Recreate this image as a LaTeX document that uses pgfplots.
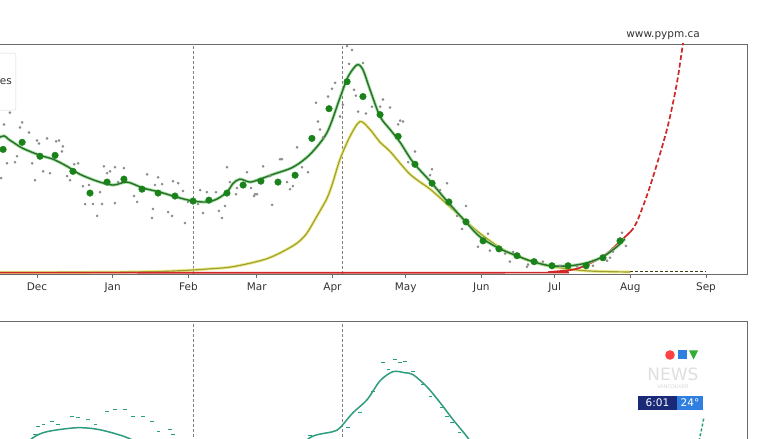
\documentclass[border=0pt]{standalone}
\usepackage{pgfplots}
\pgfplotsset{compat=1.18}
\usepackage{pgfplotstable}
\usepackage{fontspec}
\setmainfont{DejaVu Sans}

\definecolor{fitgreen}{HTML}{2B6E2B}
\definecolor{halogreen}{HTML}{8FDC8F}
\definecolor{dotgreen}{HTML}{1A821A}
\definecolor{dotgray}{HTML}{8A8A8A}
\definecolor{olivec}{HTML}{A09F38}
\definecolor{oliveglow}{HTML}{EDED8A}
\definecolor{redc}{HTML}{D02828}
\definecolor{tealc}{HTML}{2E9C7E}
\definecolor{framec}{HTML}{6A6A6A}
\definecolor{ctvnavy}{HTML}{1B2A78}
\definecolor{ctvblue}{HTML}{2F7FE0}

% x: days from 1 Dec, y: arbitrary units (frame = 0..100)
\pgfplotstableread{
x y
-17 58.5
-13.5 59.8
-11.9 58.5
-9.8 57.0
-5.7 54.3
1.2 51.3
6.6 49.6
12.3 46.5
17.6 43.0
24.6 40.0
31.1 38.3
36.9 39.6
43.4 37.0
50.4 35.2
57.3 33.0
63.9 31.3
69.6 30.9
73.7 32.2
77.8 35.2
80.3 39.0
83.1 40.9
87.2 39.6
91.3 40.9
96.7 43.0
104.8 46.1
111.8 51.7
118.8 61.3
124.1 76.5
127.4 85.7
131.1 90.9
133.5 88.7
136.4 80.0
140.5 68.3
144.6 62.6
148.7 57.0
154.0 48.3
161.0 40.0
167.9 31.3
174.5 23.5
181.4 15.7
189.6 10.4
196.6 7.4
201.9 5.2
210.1 3.0
218.3 3.0
225.3 4.3
231.8 7.0
237.5 11.3
240.8 14.8
}\fitline

\pgfplotstableread{
x y
-13.9 53.9
-6.1 57.0
1.2 50.9
7.4 51.3
14.7 44.3
21.7 34.8
28.7 39.6
35.6 40.9
43.0 36.5
49.6 34.8
56.5 33.5
63.9 31.3
70.4 31.7
77.8 34.8
84.4 38.3
91.7 40.0
98.7 39.6
105.7 42.6
112.6 58.7
119.6 71.7
127.0 83.5
133.5 77.0
140.5 69.1
147.9 59.6
154.8 47.4
161.8 39.1
168.7 30.9
175.7 22.2
182.7 13.9
189.2 10.4
196.6 7.4
203.6 4.8
210.9 3.0
217.5 3.0
224.9 3.0
231.8 6.5
238.8 13.9
}\weekly

\pgfplotstableread{
x y
-11.1 70.0
-13.5 64.8
-6.1 65.7
-7.0 63.5
-3.3 61.3
0.0 57.8
0.8 56.5
4.1 58.7
7.8 57.4
9.0 57.8
10.6 55.2
10.2 53.0
-8.2 50.9
-9.0 48.3
-12.3 47.8
-2.0 47.8
2.5 44.3
5.3 43.5
-0.8 40.4
-14.7 41.3
12.3 42.2
16.8 47.8
15.2 47.4
13.5 40.4
18.8 37.8
21.3 38.3
25.8 35.2
19.7 30.0
22.9 30.0
26.6 30.0
31.9 30.4
24.6 24.8
27.4 46.5
29.9 44.3
31.9 46.1
28.7 43.5
33.2 39.6
35.6 45.7
45.1 43.0
49.6 41.7
51.2 38.7
48.3 38.3
55.7 40.0
57.8 39.1
59.8 35.7
39.7 33.5
41.0 30.9
47.5 27.8
47.1 23.9
53.7 26.5
55.3 24.8
60.6 21.7
66.8 36.1
69.6 35.2
61.8 30.9
65.9 30.0
68.0 26.1
73.3 35.2
74.5 27.0
75.8 23.9
77.0 29.1
77.8 46.1
79.0 39.6
81.9 37.0
81.5 34.3
86.0 43.9
87.6 37.0
88.9 33.5
90.1 34.3
92.6 46.5
89.3 34.3
99.5 49.6
103.6 36.5
96.3 29.6
108.5 46.1
106.5 54.8
102.4 39.6
95.4 42.2
104.8 37.8
100.3 49.6
111.0 43.9
114.3 74.3
115.1 66.1
115.9 62.6
117.1 59.1
119.2 77.0
120.8 80.4
122.1 83.0
124.1 68.3
125.3 73.5
127.0 99.1
129.0 97.4
127.8 91.3
133.5 91.7
129.8 80.0
130.6 77.4
131.5 70.4
134.7 69.6
137.2 72.6
141.7 75.7
144.6 72.2
140.5 72.6
148.7 66.5
149.9 66.1
147.9 64.8
154.8 53.0
152.0 48.3
161.8 45.2
161.0 42.6
167.9 39.1
165.1 36.1
175.7 29.1
172.0 24.8
174.1 19.1
184.7 17.0
180.6 11.3
185.5 9.6
191.7 8.3
193.7 4.8
195.0 9.1
201.1 3.5
200.7 2.6
207.2 4.8
214.2 3.0
221.2 2.6
227.7 3.0
233.5 5.2
234.7 6.5
235.9 9.1
238.8 14.8
239.6 17.4
241.2 11.7
}\daily

\pgfplotstableread{
x y
-20 0.05
30 0.2
50 0.5
61.4 1.0
70 1.6
80.3 2.6
94.2 6.1
104.8 11.7
110 16.5
114.7 24.8
118.8 32.6
121.2 39.6
124.1 49.6
128.2 59.6
132.3 66.1
136.4 62.6
140.5 57.0
144.6 53.0
152.8 43.0
161.0 36.5
167.9 30.0
174.5 23.5
182.7 16.1
192.5 9.1
203.1 4.8
211.3 2.6
223.6 0.9
234.7 0.4
243 0.3
}\olive

\pgfplotstableread{
x y
243 0.3
258 0.3
274 0.3
}\olivedash

\pgfplotstableread{
x y
-20 0
205 0
211.3 0.4
221.2 1.7
231.8 7.0
240.0 14.8
243.0 17.8
}\redsolid

\pgfplotstableread{
x y
243.0 17.8
245.7 22.2
251.1 37.8
258.0 62.6
262.1 83.0
264.6 100.4
266.5 112
}\reddash

\pgfplotstableread{
x y
-12 38.0
-7.0 44.3
-1.6 49.6
4.1 52.2
16.4 53.9
25.8 53.0
36.9 49.6
46.3 44.3
58.6 35.7
66.8 31.3
87.2 31.3
103.6 40.0
111.8 49.6
121.2 52.2
124.1 53.9
129.4 60.4
135.2 66.1
140.5 74.3
145.8 78.3
150.7 77.8
154.0 77.0
159.7 71.7
165.1 64.8
170.4 57.4
176.1 50.0
181.4 42.2
}\tealline

\pgfplotstableread{
x y
266.5 36
270.7 46.5
273.2 58.7
}\tealdash

\pgfplotstableread{
x y
-0.8 50.9
0.4 54.3
2.5 55.2
6.1 56.5
8.6 55.2
14.3 58.7
16.8 58.3
20.9 57.4
23.8 55.2
28.7 60.9
31.9 61.7
36.0 61.7
39.3 58.7
43.4 58.7
47.1 56.5
49.6 52.2
54.5 53.0
55.7 50.9
111.8 50.4
127.4 53.9
132.3 60.4
137.6 69.6
141.7 82.2
143.8 79.1
146.6 83.5
148.7 82.2
150.7 82.6
154.0 78.3
158.1 72.6
161.0 67.4
165.9 62.6
167.9 58.7
170.0 56.1
173.2 51.7
}\tealdots

\pgfplotsset{
  panel/.style={
    scale only axis,
    width=758.8pt, height=230pt,
    xmin=-20, xmax=290.8,
    ytick=\empty,
    axis line style={framec, line width=0.9pt},
    tick style={framec, line width=0.8pt},
    major tick length=4pt,
  },
}

\begin{document}
\begin{tikzpicture}[x=1pt,y=1pt]
\useasboundingbox (0,0) rectangle (772,439);
\clip (0,0) rectangle (772,439);
\fill[white] (0,0) rectangle (772,439);

% upper panel
\begin{axis}[panel,
  at={(-11.8pt,165pt)}, anchor=south west,
  ymin=-0.6, ymax=100,
  xtick={0,31,62,90,121,151,182,212,243,274},
  xticklabels={Dec,Jan,Feb,Mar,Apr,May,Jun,Jul,Aug,Sep},
  tick align=outside, xtick pos=bottom,
  xticklabel style={font=\fontsize{10.5}{12}\selectfont, text=black!80, yshift=-1pt},
]
\addplot[gray, densely dashed, line width=0.6pt] coordinates {(64,-0.6)(64,100)};
\addplot[gray, densely dashed, line width=0.6pt] coordinates {(125,-0.6)(125,100)};
\addplot[only marks, mark=*, mark size=1.1pt, dotgray, mark options={draw=none}] table {\daily};
\addplot[oliveglow, line width=3pt, smooth, tension=0.5] table {\olive};
\addplot[olivec, line width=1.2pt, smooth, tension=0.5] table {\olive};
\addplot[black!60!olivec, line width=1.1pt, dash pattern=on 3pt off 2pt] table {\olivedash};
\addplot[redc, line width=1.7pt, smooth, tension=0.4] table {\redsolid};
\addplot[redc, line width=1.7pt, dash pattern=on 5pt off 2.5pt, smooth, tension=0.5] table {\reddash};
\addplot[only marks, mark=*, mark size=3.3pt, dotgreen, mark options={draw=none}] table {\weekly};
\addplot[halogreen, line width=3.2pt, opacity=0.8, smooth, tension=0.5] table {\fitline};
\addplot[fitgreen, line width=1.4pt, smooth, tension=0.5] table {\fitline};
\end{axis}

% lower panel
\begin{axis}[panel,
  at={(-11.8pt,-112.7pt)}, anchor=south west,
  ymin=0, ymax=100,
  xtick=\empty,
]
\addplot[gray, densely dashed, line width=0.6pt] coordinates {(64,0)(64,100)};
\addplot[gray, densely dashed, line width=0.6pt] coordinates {(125,0)(125,100)};
\addplot[only marks, mark=-, mark size=1.6pt, tealc, mark options={line width=0.9pt}] table {\tealdots};
\addplot[tealc, line width=1.5pt, smooth, tension=0.5] table {\tealline};
\addplot[tealc, line width=1.5pt, dash pattern=on 3pt off 2pt, smooth] table {\tealdash};
\end{axis}

% partial legend box at the left edge (only its right end is in view)
\node[draw=gray!30, fill=white, rounded corners=2pt, anchor=north east,
      minimum height=57pt, text width=40pt, align=right, inner xsep=4pt,
      text=black!80, font=\fontsize{10.5}{12}\selectfont] at (16,386) {es};

% source watermark
\node[anchor=base east, inner sep=0pt, text=black!80,
      font=\fontsize{10.5}{12}\selectfont] at (700,401) {www.pypm.ca};

% broadcaster overlay
\fill[red!75] (670,84) circle (4.8);
\fill[ctvblue] (677.5,79.5) rectangle (686.5,88.5);
\fill[green!60!black!80] (689,88.5) -- (698,88.5) -- (693.5,79.5) -- cycle;
\node[text=gray!25, font=\fontsize{17}{17}\selectfont] at (673,65) {NEWS};
\node[text=gray!30, font=\fontsize{5}{6}\selectfont] at (673,52) {VANCOUVER};
\fill[ctvnavy] (638,29) rectangle (677,43);
\fill[ctvblue] (677,29) rectangle (703,43);
\node[text=white, font=\fontsize{10.5}{12}\selectfont] at (657.5,36) {6:01};
\node[text=white, font=\fontsize{10.5}{12}\selectfont] at (690,36) {24°};
\end{tikzpicture}
\end{document}
